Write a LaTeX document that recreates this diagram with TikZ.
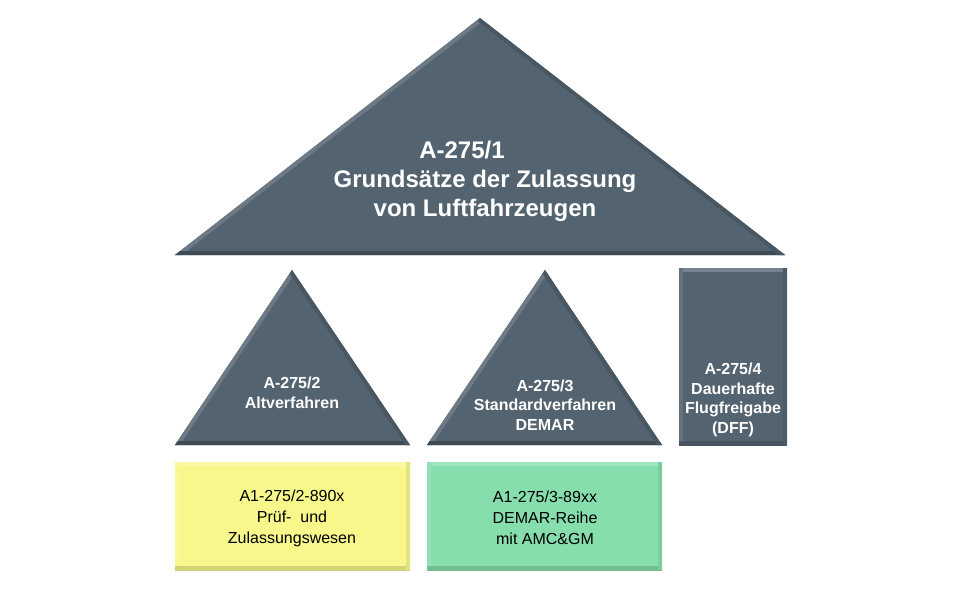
\documentclass[tikz,border=0pt]{standalone}
\usepackage{fontspec}
\setmainfont{Liberation Sans}

\definecolor{slate}{RGB}{83,99,112}
\definecolor{paleyellow}{RGB}{247,247,140}
\definecolor{palegreen}{RGB}{134,222,172}

\tikzset{
  headtext/.style={text=white, font=\bfseries\fontsize{24}{29}\selectfont, align=center},
  parttext/.style={text=white, font=\bfseries\fontsize{16}{19.5}\selectfont, align=center},
  boxtext/.style={text=black, font=\fontsize{16}{21}\selectfont, align=center},
}

% triangle with bevelled edges: apex, left, right
\newcommand{\beveltri}[3]{%
  \fill[slate] (#1) -- (#2) -- (#3) -- cycle;
  \begin{scope}
    \clip (#1) -- (#2) -- (#3) -- cycle;
    \draw[line width=8pt, slate!85!white] (#1) -- (#2);
    \draw[line width=8pt, slate!75!black] (#2) -- (#3);
    \draw[line width=8pt, slate!88!black] (#3) -- (#1);
  \end{scope}}

% box with bevelled edges: north west, south east, colour
\newcommand{\bevelbox}[3]{%
  \fill[#3] (#1) rectangle (#2);
  \begin{scope}
    \clip (#1) rectangle (#2);
    \draw[line width=8pt, #3!80!white] (#1) -- (#1 -| #2);
    \draw[line width=8pt, #3!90!white] (#1) -- (#1 |- #2);
    \draw[line width=8pt, #3!85!black] (#1 |- #2) -- (#2);
    \draw[line width=8pt, #3!92!black] (#1 -| #2) -- (#2);
  \end{scope}}

\begin{document}
\begin{tikzpicture}[x=1pt,y=-1pt]
  \useasboundingbox (0,0) rectangle (960,599);

  % roof
  \coordinate (roofTop) at (480,18);
  \coordinate (roofL) at (175,255);
  \coordinate (roofR) at (785,255);
  \beveltri{roofTop}{roofL}{roofR}
  \node[headtext] (roof) at (485,181)
    {\hspace*{-46pt}A-275/1\\Grundsätze der Zulassung\\von Luftfahrzeugen};

  % pillars
  \coordinate (altTop) at (292,270);
  \coordinate (altL) at (175,445);
  \coordinate (altR) at (410,445);
  \beveltri{altTop}{altL}{altR}
  \node[parttext] (alt) at (292,393) {A-275/2\\Altverfahren};

  \coordinate (stdTop) at (545,270);
  \coordinate (stdL) at (427,445);
  \coordinate (stdR) at (662,445);
  \beveltri{stdTop}{stdL}{stdR}
  \node[parttext] (std) at (545,405) {A-275/3\\Standardverfahren\\DEMAR};

  \coordinate (dffNW) at (679,268);
  \coordinate (dffSE) at (787,445);
  \bevelbox{dffNW}{dffSE}{slate}
  \node[parttext] (dff) at (733,400) {A-275/4\\Dauerhafte\\Flugfreigabe\\(DFF)};

  % foundations
  \coordinate (pzwNW) at (175,462);
  \coordinate (pzwSE) at (410,570);
  \bevelbox{pzwNW}{pzwSE}{paleyellow}
  \node[boxtext] (pzw) at (292,518) {A1-275/2-890x\\Prüf- \ und\\Zulassungswesen};

  \coordinate (demNW) at (427,462);
  \coordinate (demSE) at (662,570);
  \bevelbox{demNW}{demSE}{palegreen}
  \node[boxtext] (dem) at (545,518) {A1-275/3-89xx\\DEMAR-Reihe\\mit AMC\&GM};
\end{tikzpicture}
\end{document}
